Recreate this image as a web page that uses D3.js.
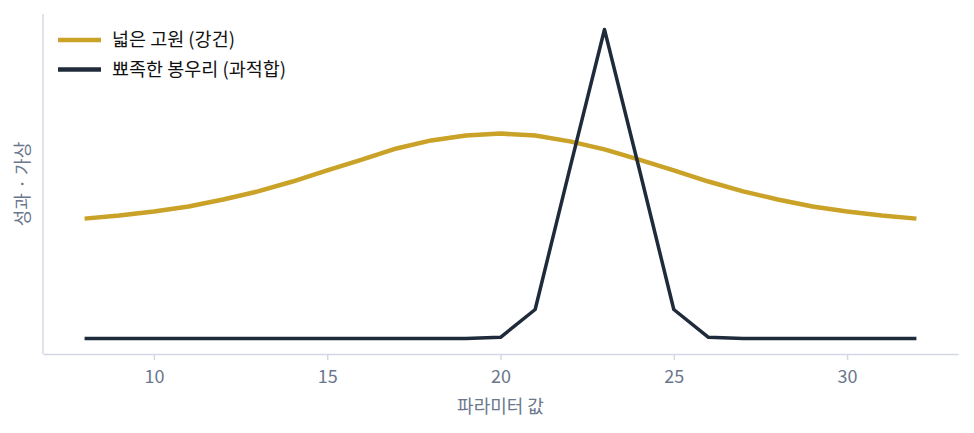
<!DOCTYPE html>
<html>
<head>
<meta charset="utf-8">
<script src="https://cdn.jsdelivr.net/npm/d3@7"></script>
<style>
  body { margin: 0; background: #fff; }
  svg text { font-family: "Noto Sans CJK KR", "Noto Sans", sans-serif; }
  .axis path, .axis line { stroke: #d3d8e2; }
  .axis text { fill: #6b778c; font-size: 18px; }
  .axis-title { fill: #6b778c; font-size: 18px; }
  .legend text { fill: #111; font-size: 18.5px; }
</style>
</head>
<body>
<svg id="chart" width="974" height="433"></svg>
<script>
// parameter values on the x axis
var params = [8, 9, 10, 11, 12, 13, 14, 15, 16, 17, 18, 19, 20, 21, 22, 23, 24, 25, 26, 27, 28, 29, 30, 31, 32];

// broad plateau (robust)
var plateau = [0.388, 0.398, 0.411, 0.427, 0.450, 0.476, 0.508, 0.544, 0.579, 0.615, 0.641, 0.657, 0.663,
               0.657, 0.638, 0.612, 0.579, 0.544, 0.508, 0.476, 0.450, 0.427, 0.411, 0.398, 0.388];

// sharp peak (overfit)
var peak = [0, 0, 0, 0, 0, 0, 0, 0, 0, 0, 0, 0, 0.004,
            0.094, 0.55, 1.0, 0.55, 0.094, 0.004, 0, 0, 0, 0, 0, 0];

var xTicks = [10, 15, 20, 25, 30];
var seriesNames = ["넓은 고원 (강건)", "뾰족한 봉우리 (과적합)"];
var seriesColors = ["#c9a227", "#1f2b3a"];

var margin = { left: 43, right: 16, top: 14, bottom: 79 };
var width = 974, height = 433;

var svg = d3.select("#chart");

var x = d3.scaleLinear()
  .domain([6.8, 33.2])
  .range([margin.left, width - margin.right]);

var y = d3.scaleLinear()
  .domain([-0.05, 1.05])
  .range([height - margin.bottom, margin.top]);

// axes
var xAxis = svg.append("g")
  .attr("class", "axis")
  .attr("transform", "translate(0," + (height - margin.bottom) + ")")
  .call(d3.axisBottom(x).tickValues(xTicks).tickSize(6).tickPadding(10).tickSizeOuter(0));
xAxis.select(".domain").attr("stroke-width", 1.5);
xAxis.selectAll(".tick line").attr("stroke-width", 1.5);

svg.append("line")
  .attr("x1", margin.left).attr("x2", margin.left)
  .attr("y1", margin.top).attr("y2", height - margin.bottom)
  .attr("stroke", "#d3d8e2").attr("stroke-width", 1.5);

svg.append("text")
  .attr("class", "axis-title")
  .attr("x", x(20))
  .attr("y", 413)
  .attr("text-anchor", "middle")
  .text("파라미터 값");

svg.append("text")
  .attr("class", "axis-title")
  .attr("transform", "translate(29," + ((margin.top + height - margin.bottom) / 2) + ") rotate(-90)")
  .attr("text-anchor", "middle")
  .text("성과 · 가상");

// lines
var series = [plateau, peak];
var line = d3.line()
  .x(function(d, i) { return x(params[i]); })
  .y(function(d) { return y(d); });

series.forEach(function(s, i) {
  svg.append("path")
    .datum(s)
    .attr("fill", "none")
    .attr("stroke", seriesColors[i])
    .attr("stroke-width", i === 0 ? 4.5 : 3.5)
    .attr("stroke-linejoin", "round")
    .attr("d", line);
});

// legend
var legend = svg.append("g").attr("class", "legend");
seriesNames.forEach(function(name, i) {
  var ly = 40 + i * 29.5;
  legend.append("line")
    .attr("x1", 58).attr("x2", 101)
    .attr("y1", ly).attr("y2", ly)
    .attr("stroke", seriesColors[i])
    .attr("stroke-width", 4.5);
  legend.append("text")
    .attr("x", 112)
    .attr("y", ly)
    .attr("dy", "0.35em")
    .text(name);
});
</script>
</body>
</html>
